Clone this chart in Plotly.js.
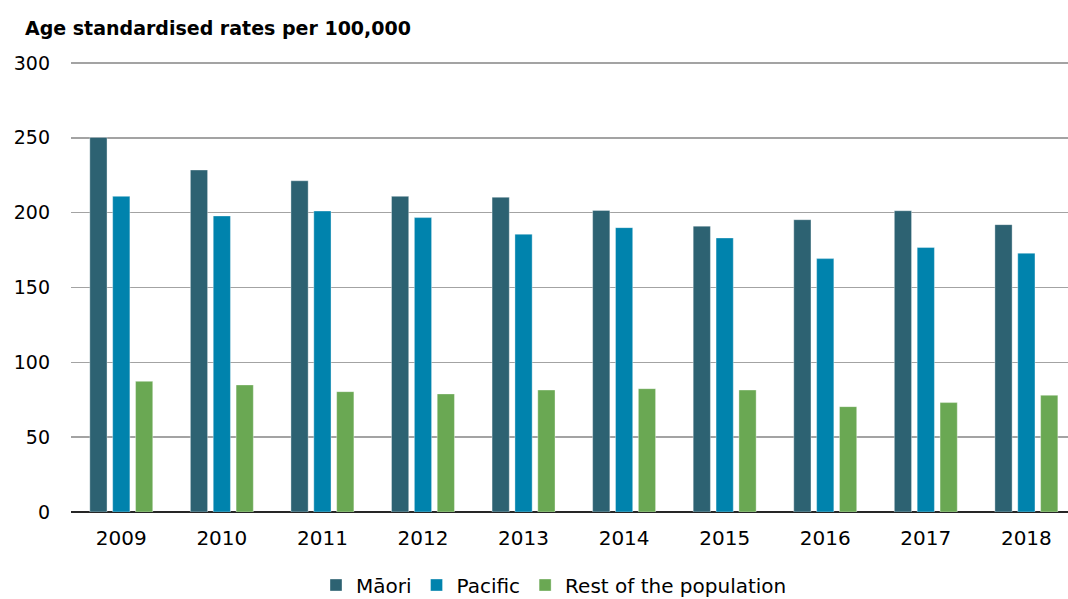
<!DOCTYPE html>
<html>
<head>
<meta charset="utf-8">
<script src="https://cdn.plot.ly/plotly-3.0.1.min.js"></script>
<style>html,body{margin:0;padding:0;background:#fff;overflow:hidden}</style>
</head>
<body>
<div id="chart" style="width:1068px;height:599px"></div>
<script>
const years = ["2009","2010","2011","2012","2013","2014","2015","2016","2017","2018"];
const maori = [250.3, 228.5, 221.3, 210.9, 210.3, 201.5, 191.0, 195.3, 201.3, 192.0];
const pacific = [210.9, 197.8, 201.1, 196.7, 185.6, 190.0, 183.1, 169.3, 176.7, 172.9];
const rest = [87.3, 84.9, 80.4, 78.9, 81.5, 82.4, 81.5, 70.4, 73.1, 78.0];
const seriesNames = ["Māori", "Pacific", "Rest of the population"];
const yTicks = [0, 50, 100, 150, 200, 250, 300];

const colors = ["#2d6272", "#0083ad", "#6aa853"];
const edge = {color: "rgba(255,255,255,0.45)", width: 0.8};
const FONT = "DejaVu Sans, Arial, sans-serif";

const traces = [maori, pacific, rest].map((vals, i) => ({
  type: "bar",
  name: seriesNames[i],
  x: years,
  y: vals,
  marker: {color: colors[i], line: edge},
  hoverinfo: "x+y+name"
}));

const layout = {
  width: 1068,
  height: 599,
  margin: {l: 71, r: 0, t: 60, b: 87},
  paper_bgcolor: "#ffffff",
  plot_bgcolor: "#ffffff",
  barmode: "group",
  bargap: 0.318,
  bargroupgap: 0.247,
  font: {family: FONT, size: 20, color: "#000000"},
  title: {
    text: "<b>Age standardised rates per 100,000</b>",
    font: {family: FONT, size: 19, color: "#000000"},
    x: 25 / 1068, xref: "container", xanchor: "left",
    y: 1 - 28 / 599, yref: "container", yanchor: "middle"
  },
  xaxis: {
    type: "category",
    range: [-0.5, 9.414],
    showgrid: false,
    showline: false,
    zeroline: false,
    ticks: "",
    tickfont: {family: FONT, size: 20, color: "#000000"},
    ticklabelstandoff: 12,
    fixedrange: true
  },
  yaxis: {
    range: [0, 302],
    tickvals: yTicks,
    ticktext: yTicks.map(String),
    showgrid: true,
    gridcolor: "#a3a3a3",
    gridwidth: 1.5,
    zeroline: true,
    zerolinecolor: "#262626",
    zerolinewidth: 1.6,
    showline: false,
    ticks: "",
    tickfont: {family: FONT, size: 19, color: "#000000"},
    ticklabelstandoff: 20,
    fixedrange: true
  },
  showlegend: true,
  legend: {
    orientation: "h",
    xref: "container", yref: "container",
    x: 554 / 1068, xanchor: "center",
    y: 1 - 585 / 599, yanchor: "middle",
    font: {family: FONT, size: 20, color: "#000000"},
    traceorder: "normal",
    bgcolor: "rgba(0,0,0,0)"
  }
};

Plotly.newPlot("chart", traces, layout, {displayModeBar: false, staticPlot: true});
</script>
</body>
</html>
